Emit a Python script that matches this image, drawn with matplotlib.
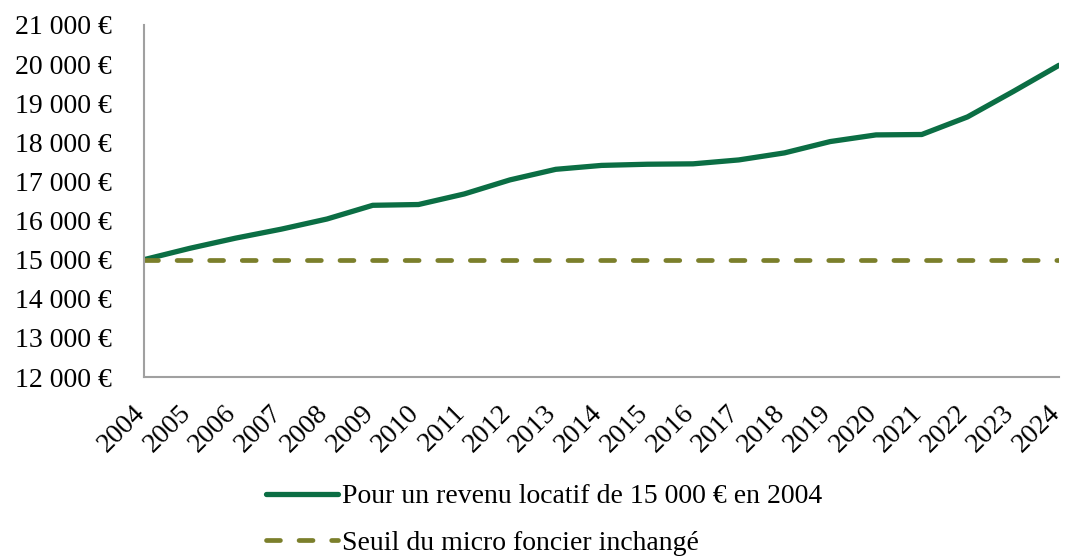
import matplotlib
matplotlib.use("Agg")
import matplotlib.pyplot as plt
import matplotlib.transforms as mtransforms
from matplotlib.ticker import FuncFormatter

years = [str(y) for y in range(2004, 2025)]
revenu = [15000, 15290, 15550, 15780, 16040, 16390, 16410, 16680, 17040, 17310,
          17410, 17440, 17450, 17550, 17730, 18020, 18190, 18200, 18650, 19300, 19970]
seuil = [15000] * len(years)

label_revenu = "Pour un revenu locatif de 15 000 € en 2004"
label_seuil = "Seuil du micro foncier inchangé"

plt.rcParams['font.family'] = ['Liberation Serif', 'DejaVu Serif']

fig = plt.figure(figsize=(10.66, 5.57), dpi=100)
ax = fig.add_axes([144/1066, 1 - 377/557, (1059-144)/1066, (377-25)/557])

x = list(range(len(years)))
ax.plot(x, revenu, color='#0b6e44', lw=3.8, solid_capstyle='round',
        solid_joinstyle='round', label=label_revenu)
ax.plot(x, seuil, color='#7b7f2b', lw=3.4, dashes=(2.95, 3.95),
        dash_capstyle='round', label=label_seuil)

ax.set_xlim(0, len(years) - 1)
ax.set_ylim(12000, 21000)
ax.set_yticks(range(12000, 21001, 1000))
ax.yaxis.set_major_formatter(FuncFormatter(lambda v, p: f"{int(v):,} €".replace(",", " ")))
ax.set_xticks(x)
ax.set_xticklabels(years, rotation=45, ha='right', va='center', rotation_mode='anchor')
ax.tick_params(axis='both', length=0, labelsize=20, colors='black')
ax.tick_params(axis='x', pad=23)
ax.tick_params(axis='y', pad=23)
shift = mtransforms.ScaledTranslation(-3/100, 0, fig.dpi_scale_trans)
for lbl in ax.get_xticklabels():
    lbl.set_transform(lbl.get_transform() + shift)

for s in ['top', 'right']:
    ax.spines[s].set_visible(False)
for s in ['left', 'bottom']:
    ax.spines[s].set_color('#a0a0a0')
    ax.spines[s].set_linewidth(1.5)

fig.legend(loc='upper left', bbox_to_anchor=(266/1066, 1 - 484/557), frameon=False,
           fontsize=20, handlelength=2.6, handletextpad=0.15, labelspacing=0.75,
           borderpad=0, borderaxespad=0)

fig.savefig("out.png", dpi=100)
